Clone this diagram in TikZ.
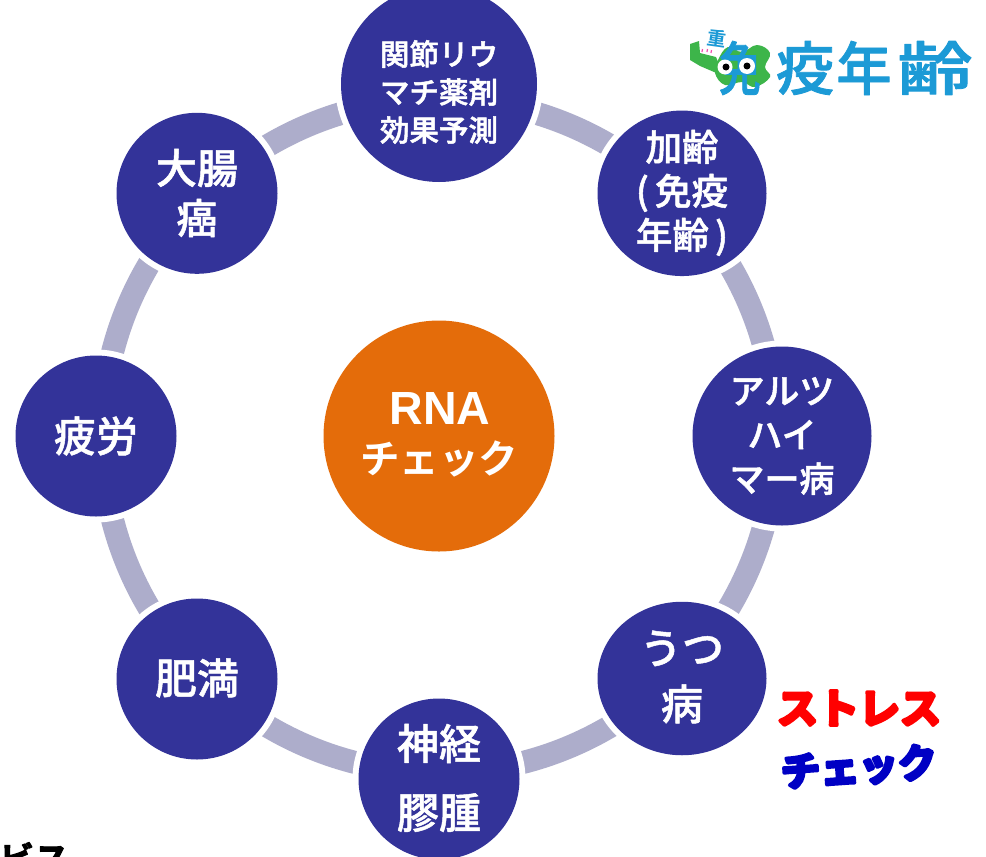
\documentclass[tikz,border=0pt]{standalone}
\usepackage{fontspec}
\usetikzlibrary{shapes.geometric}
\setmainfont{Noto Sans CJK JP Medium}
\newfontfamily\jpb{Noto Sans CJK JP Medium}
\newfontfamily\jpbb{Noto Sans CJK JP Bold}
\newfontfamily\latinb{Liberation Sans Bold}
\definecolor{navy}{HTML}{333399}
\definecolor{ringc}{HTML}{ADADCB}
\definecolor{core}{HTML}{E46C0A}
\definecolor{logoblue}{HTML}{1C9AD6}
\definecolor{logogreen}{HTML}{3DB54A}
\definecolor{chkblue}{HTML}{0000C4}
\newcommand{\sz}[2]{\fontsize{#1}{#2}\selectfont}
\newcommand{\stk}[2]{\special{pdf:code 2 Tr #1 w 1 j}#2\special{pdf:code 0 Tr 1 w 0 j}}
\tikzset{
  disc/.style={circle,fill=navy,inner sep=0pt,preaction={draw=white,line width=12pt}},
  oval/.style={ellipse,fill=navy,inner sep=0pt,preaction={draw=white,line width=12pt}},
  label/.style={text=white,inner sep=0pt,align=center},
  logotext/.style={text=logoblue,inner sep=0pt,font=\jpb\sz{58}{58}},
}
\begin{document}
\begin{tikzpicture}[x=1pt,y=-1pt]
\useasboundingbox (0,0) rectangle (986,857);
\clip (0,0) rectangle (986,857);
\fill[white] (0,0) rectangle (986,857);
\coordinate (hub) at (439,436);
% ring
\draw[draw=ringc,line width=23pt] (hub) circle[radius=337];
% centre
\node[circle,fill=core,inner sep=0pt,minimum size=231pt] (centre) at (hub) {};
\node[label,font=\latinb\sz{46.5}{51}] (rna) at (440,408) {RNA};
\node[label,font=\jpbb\sz{39.5}{51}] (chk) at (439,459) {チェック};
% outer discs
\node[disc,minimum size=196pt] (ra) at (439,84) {};
\node[label,font=\jpb\sz{29.5}{38}] (ratxt) at (439,92) {\stk{0.5}{関節リウ\\マチ薬剤\\効果予測}};
\node[oval,minimum width=169pt,minimum height=165.5pt] (age) at (682,193.3) {};
\node[label,font=\jpb\sz{36.5}{44}] (agetxt) at (682,193) {\stk{0.5}{加齢\\(\,免疫\\年齢\,)}};
\node[disc,minimum size=179pt] (alz) at (782,436) {};
\node[label,font=\jpb\sz{35}{44}] (alztxt) at (782,436) {\stk{0.5}{アルツ\\ハイ\\マー病}};
\node[oval,minimum width=169pt,minimum height=153.5pt] (dep) at (682,678.5) {};
\node[label,font=\jpb\sz{42}{56}] (deptxt) at (682,677) {\stk{0.5}{うつ\\病}};
\node[disc,minimum size=161pt] (glio) at (439,779) {};
\node[label,font=\jpb\sz{42}{69}] (gliotxt) at (439,778) {\stk{0.5}{神経\\膠腫}};
\node[disc,minimum size=161pt] (obes) at (197,679) {};
\node[label,font=\jpb\sz{42}{50}] (obestxt) at (197,678) {\stk{0.5}{肥満}};
\node[disc,minimum size=161pt] (fat) at (96,436) {};
\node[label,font=\jpb\sz{42}{50}] (fattxt) at (96,436) {\stk{0.5}{疲労}};
\node[disc,minimum size=161pt] (crc) at (197,193.3) {};
\node[label,font=\jpb\sz{41}{50}] (crctxt) at (197,193) {\stk{0.5}{大腸\\癌}};
% logo
\fill[logogreen] (690,44) -- (699,41) -- (700,53) -- (716,57) -- (722,72) -- (714,72) -- (700,66) -- (690,60) -- cycle;
\fill[logogreen] plot[smooth cycle,tension=0.7] coordinates {(718,60) (728,47) (742,52) (757,45) (770,53) (765,67) (770,77) (755,87) (742,82) (725,85) (715,73)};
\node[logotext,xscale=0.72] (men) at (740,68) {\stk{0.8}{免}};
\fill[white] (725,67) circle[radius=7.5];
\fill[white] (747,66) circle[radius=8];
\fill[black] (726,67) circle[radius=3.5];
\fill[black] (747,66) circle[radius=3.5];
\foreach \px/\py in {702/52,707/52,711/53}
  \draw[magenta!70,line width=1.2pt] (\px,\py) -- ++(0.5,-3);
\node[text=logoblue,inner sep=0pt,rotate=-8,font=\jpbb\sz{19}{19}] (heavy) at (717,38) {重};
\node[logotext] (eki) at (805,68) {\stk{0.8}{疫}};
\node[logotext,xscale=.95] (nen) at (864,68) {\stk{0.8}{年}};
\node[logotext,xscale=1.3] (rei) at (935,68) {\stk{0.8}{齢}};
% stress check
\node[text=red,inner sep=0pt,font=\jpbb\sz{41}{41}] (stress) at (859,708) {\stk{3.6}{ストレス}};
\node[text=chkblue,inner sep=0pt,rotate=4,font=\jpbb\sz{39}{39}] (check) at (859,767) {\stk{3.6}{チェック}};
% cropped caption
\node[text=black,inner sep=0pt,anchor=west,font=\jpbb\sz{35}{35}] (cap) at (-1,858) {\stk{1}{ビス}};
\end{tikzpicture}
\end{document}
